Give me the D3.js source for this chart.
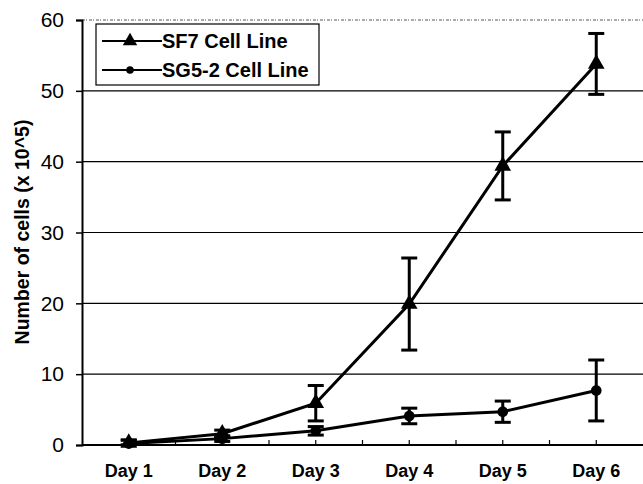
<!DOCTYPE html>
<html><head><meta charset="utf-8">
<script src="https://cdn.jsdelivr.net/npm/d3@7"></script>
<style>body{margin:0;background:#fff}svg{display:block}</style>
</head><body>
<svg id="c" width="643" height="484"></svg>
<script>
const categories = ["Day 1","Day 2","Day 3","Day 4","Day 5","Day 6"];
const sf7Values = [0.3, 1.6, 5.9, 19.9, 39.4, 53.8];
const sf7Errors = [0.4, 0.5, 2.5, 6.5, 4.8, 4.3];
const sg52Values = [0.2, 0.9, 2.0, 4.1, 4.7, 7.7];
const sg52Errors = [0.5, 0.4, 0.6, 1.1, 1.5, 4.3];
const yTicks = [0,10,20,30,40,50,60];
const seriesNames = ["SF7 Cell Line","SG5-2 Cell Line"];
const yTitle = "Number of cells (x 10^5)";

const FONT = "Arial, 'Liberation Sans', sans-serif";
const svg = d3.select("#c");
const m = {left:82, right:643, top:20, bottom:445};
const x = d3.scaleBand().domain(categories).range([m.left, m.right]);
const y = d3.scaleLinear().domain([0,60]).range([m.bottom, m.top]);
const cx = d => x(d) + x.bandwidth()/2;

// gridlines
svg.append("g").selectAll("line").data(yTicks.filter(t=>t>0 && t<60)).join("line")
  .attr("x1", m.left).attr("x2", m.right).attr("y1", d=>y(d)).attr("y2", d=>y(d))
  .attr("stroke","#000").attr("stroke-width",1.2);
// top border (faint dotted)
svg.append("line").attr("x1",m.left).attr("x2",m.right).attr("y1",y(60)).attr("y2",y(60))
  .attr("stroke","#555").attr("stroke-width",1).attr("stroke-dasharray","3,1,1,2");

// y axis
const yAxis = d3.axisLeft(y).tickValues(yTicks).tickSize(6).tickPadding(12);
const gy = svg.append("g").attr("transform",`translate(${m.left},0)`).call(yAxis);
gy.select(".domain").attr("stroke","#000").attr("stroke-width",2);
gy.selectAll(".tick line").attr("stroke","#000").attr("stroke-width",1.5);
gy.selectAll("text").attr("font-family",FONT).attr("font-size",21).attr("fill","#000");

// x axis
const xAxis = d3.axisBottom(x).tickSize(0).tickPadding(19);
const gx = svg.append("g").attr("transform",`translate(0,${m.bottom})`).call(xAxis);
gx.select(".domain").remove();
gx.selectAll("text").attr("font-family",FONT).attr("font-size",18).attr("font-weight","bold").attr("fill","#000");
svg.append("line").attr("x1",m.left).attr("x2",m.right).attr("y1",m.bottom).attr("y2",m.bottom).attr("stroke","#000").attr("stroke-width",2);
// tick marks at category centres and boundaries (upward)
const tickXs = categories.map(cx).concat(categories.map(c=>x(c)).slice(1));
svg.append("g").selectAll("line").data(tickXs).join("line")
  .attr("x1",d=>d).attr("x2",d=>d).attr("y1",m.bottom).attr("y2",m.bottom-5)
  .attr("stroke","#000").attr("stroke-width",1.2);

// y title
svg.append("text").attr("transform",`translate(29,232) rotate(-90)`)
  .attr("text-anchor","middle").attr("font-family",FONT)
  .attr("font-size",19.5).attr("font-weight","bold").text(yTitle);

const line = d3.line().x((d,i)=>cx(categories[i])).y(d=>y(d));
function drawSeries(vals, errs, marker){
  const g = svg.append("g");
  g.append("path").datum(vals).attr("d",line).attr("fill","none").attr("stroke","#000").attr("stroke-width",3);
  const eb = g.selectAll(".eb").data(vals).join("g");
  eb.append("line").attr("x1",(d,i)=>cx(categories[i])).attr("x2",(d,i)=>cx(categories[i]))
    .attr("y1",(d,i)=>y(d+errs[i])).attr("y2",(d,i)=>y(Math.max(0,d-errs[i])))
    .attr("stroke","#000").attr("stroke-width",3);
  [1,-1].forEach(s=>{
    eb.append("line").attr("x1",(d,i)=>cx(categories[i])-8).attr("x2",(d,i)=>cx(categories[i])+8)
      .attr("y1",(d,i)=>y(Math.max(0,d+s*errs[i]))).attr("y2",(d,i)=>y(Math.max(0,d+s*errs[i])))
      .attr("stroke","#000").attr("stroke-width",3);
  });
  g.selectAll(".mk").data(vals).join("path")
    .attr("transform",(d,i)=>`translate(${cx(categories[i])},${y(d)})`)
    .attr("d", marker).attr("fill","#000");
}
const tri = d3.symbol().type(d3.symbolTriangle).size(120)();
const circ = d3.symbol().type(d3.symbolCircle).size(90)();
drawSeries(sg52Values, sg52Errors, circ);
drawSeries(sf7Values, sf7Errors, tri);

// legend
const lg = svg.append("g");
lg.append("rect").attr("x",96).attr("y",24).attr("width",223).attr("height",61)
  .attr("fill","#fff").attr("stroke","#000").attr("stroke-width",1.2);
seriesNames.forEach((n,i)=>{
  const yy = 41 + i*29;
  lg.append("line").attr("x1",102).attr("x2",162).attr("y1",yy).attr("y2",yy).attr("stroke","#000").attr("stroke-width",2);
  lg.append("path").attr("transform",`translate(130,${yy})`).attr("d", i===0? d3.symbol().type(d3.symbolTriangle).size(90)() : d3.symbol().type(d3.symbolCircle).size(45)()).attr("fill","#000");
  lg.append("text").attr("x",162).attr("y",yy+7).attr("font-family",FONT)
    .attr("font-size",20).attr("font-weight","bold").text(n);
});
</script>
</body></html>
